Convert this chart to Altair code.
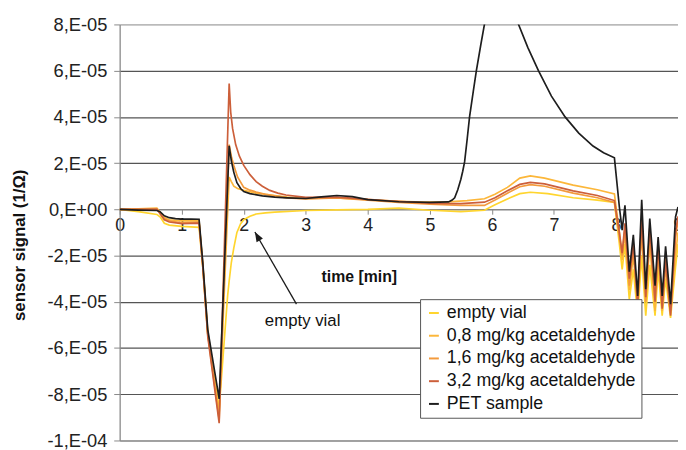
import json
import altair as alt
import pandas as pd

FONT = "Liberation Sans"

# ---- data: time in minutes, sensor signal in units of 1E-05 (1/Ohm) ----
osc_t = [8.055, 8.10, 8.145, 8.215, 8.28, 8.35, 8.415, 8.48, 8.545, 8.63, 8.68, 8.745, 8.80, 8.88, 8.96, 9.0]

empty_t = [0, 0.3, 0.6, 0.66, 0.72, 0.8, 1.0, 1.28, 1.34, 1.42, 1.604, 1.74, 1.765, 1.8, 1.84, 1.89,
           1.95, 2.0, 2.1, 2.2, 2.35, 2.5, 3.0, 3.5, 4.0, 4.5, 5.0, 5.5, 5.88, 6.05, 6.25, 6.45, 6.62,
           6.9, 7.31, 7.7, 7.975]
empty_v = [0, -0.1, -0.22, -0.35, -0.6, -0.68, -0.74, -0.78, -2.5, -5.4, -8.6, -3.75, -3.1, -2.3, -1.67,
           -1.0, -0.62, -0.45, -0.3, -0.2, -0.15, -0.12, -0.05, -0.02, 0.0, 0.05, -0.04, -0.1, -0.04,
           0.2, 0.45, 0.68, 0.74, 0.68, 0.5, 0.4, 0.3]
empty_osc = [-1.5, -2.6, -1.5, -3.9, -2.6, -4.6, -2.0, -4.6, -2.4, -4.6, -2.6, -4.6, -3.0, -4.7, -2.5, -1.5]

c08_t = [0, 0.3, 0.6, 0.66, 0.72, 0.8, 1.0, 1.28, 1.34, 1.42, 1.604, 1.765, 1.8, 1.84, 1.9, 2.0, 2.2, 2.5,
         2.7, 3.0, 3.5, 4.0, 4.5, 4.9, 5.3, 5.6, 5.88, 6.05, 6.25, 6.45, 6.62, 6.85, 7.31, 7.7, 7.975]
c08_v = [0, 0.02, 0.05, -0.15, -0.35, -0.45, -0.5, -0.5, -2.4, -5.3, -8.8, 1.4, 1.2, 1.0, 0.9, 0.82, 0.7, 0.6,
         0.53, 0.47, 0.5, 0.42, 0.35, 0.31, 0.32, 0.38, 0.46, 0.65, 0.95, 1.35, 1.45, 1.35, 1.05, 0.85, 0.67]
c08_osc = [-1.0, -2.2, -1.0, -3.5, -2.0, -4.2, -1.0, -4.0, -1.5, -4.4, -2.0, -4.4, -2.5, -4.5, -2.0, -1.0]

c16_t = [0, 0.3, 0.6, 0.66, 0.72, 0.8, 1.0, 1.28, 1.34, 1.42, 1.604, 1.765, 1.8, 1.84, 1.9, 2.0, 2.1, 2.2,
         2.35, 2.5, 2.7, 3.0, 3.5, 4.0, 4.5, 5.0, 5.5, 5.88, 6.05, 6.25, 6.45, 6.62, 6.85, 7.31, 7.7, 7.975]
c16_v = [0, 0.0, 0.02, -0.2, -0.4, -0.5, -0.58, -0.55, -2.4, -5.4, -9.1, 2.8, 2.3, 1.9, 1.4, 0.95, 0.83, 0.75,
         0.65, 0.58, 0.5, 0.45, 0.5, 0.4, 0.3, 0.22, 0.17, 0.17, 0.4, 0.7, 0.98, 1.07, 1.0, 0.7, 0.5, 0.3]
c16_osc = [-1.2, -2.0, -0.8, -3.3, -1.6, -4.0, -0.5, -4.0, -1.0, -3.9, -1.6, -4.2, -2.0, -4.4, -1.2, -0.5]

c32_t = [0, 0.3, 0.6, 0.66, 0.72, 0.8, 1.0, 1.28, 1.34, 1.42, 1.604, 1.765, 1.78, 1.79, 1.82, 1.87, 1.93,
         2.0, 2.1, 2.2, 2.3, 2.42, 2.55, 2.68, 3.0, 3.5, 4.27, 5.06, 5.5, 5.88, 6.05, 6.25, 6.45, 6.62,
         6.85, 7.31, 7.7, 7.975]
c32_v = [0, 0.0, 0.0, -0.22, -0.45, -0.55, -0.62, -0.6, -2.5, -5.5, -9.25, 5.44, 4.7, 4.2, 3.5, 2.8, 2.3,
         1.9, 1.5, 1.2, 1.0, 0.82, 0.7, 0.62, 0.52, 0.53, 0.38, 0.26, 0.25, 0.31, 0.5, 0.8, 1.08, 1.17,
         1.1, 0.8, 0.6, 0.38]
c32_osc = [-1.0, -1.9, -0.6, -3.0, -1.5, -4.2, -0.4, -3.8, -0.8, -4.0, -1.5, -4.3, -2.2, -4.6, -1.0, -0.3]

pet_t = [0, 0.3, 0.6, 0.65, 0.72, 0.8, 0.9, 1.0, 1.15, 1.28, 1.34, 1.42, 1.604, 1.765, 1.8, 1.84, 1.89,
         1.95, 2.0, 2.1, 2.3, 2.5, 2.7, 3.0, 3.25, 3.5, 3.75, 4.0, 4.5, 5.0, 5.3, 5.36, 5.4, 5.45, 5.5,
         5.53, 5.56, 5.6, 5.64, 5.7, 5.75, 5.82, 5.88, 5.97, 6.07, 6.17, 6.27, 6.36, 6.43, 6.58, 6.75,
         6.96, 7.18, 7.4, 7.63, 7.8, 7.975]
pet_v = [0, -0.03, -0.05, -0.1, -0.28, -0.36, -0.4, -0.42, -0.42, -0.43, -2.3, -5.2, -8.2, 2.75, 2.1, 1.6,
         1.15, 0.9, 0.77, 0.68, 0.58, 0.53, 0.5, 0.47, 0.54, 0.6, 0.55, 0.42, 0.33, 0.3, 0.32, 0.4, 0.5,
         0.85, 1.3, 1.65, 2.05, 3.0, 4.0, 5.1, 6.0, 7.1, 8.0, 9.2, 10.0, 10.2, 9.8, 8.8, 8.0, 7.0, 6.0,
         4.9, 4.0, 3.3, 2.74, 2.45, 2.23]
pet_osc = [0.1, -0.9, 0.17, -2.7, -1.1, -3.75, 0.41, -3.46, -0.4, -3.3, -1.2, -3.75, -1.6, -4.1, -0.33, 0.1]

series_names = ["empty vial", "0,8 mg/kg acetaldehyde", "1,6 mg/kg acetaldehyde",
                "3,2 mg/kg acetaldehyde", "PET sample"]
series_colors = ["#FFD52E", "#FCB73A", "#F39A3C", "#CC5F3A", "#1E1E1E"]

y_tick_values = [-10, -8, -6, -4, -2, 0, 2, 4, 6, 8]
y_tick_labels = ["-1,E-04", "-8,E-05", "-6,E-05", "-4,E-05", "-2,E-05",
                 "0,E+00", "2,E-05", "4,E-05", "6,E-05", "8,E-05"]
x_tick_values = [0, 1, 2, 3, 4, 5, 6, 7, 8, 9]

annotation_text = "empty vial"

# ---- build table ----
rows = []
for name, ts, vs, osc in [
    (series_names[0], empty_t, empty_v, empty_osc),
    (series_names[1], c08_t, c08_v, c08_osc),
    (series_names[2], c16_t, c16_v, c16_osc),
    (series_names[3], c32_t, c32_v, c32_osc),
    (series_names[4], pet_t, pet_v, pet_osc),
]:
    assert len(ts) == len(vs) and len(osc) == len(osc_t), name
    for t, v in zip(ts + osc_t, vs + osc):
        rows.append({"time": t, "signal": v, "series": name})
df = pd.DataFrame(rows)

x_scale = alt.Scale(domain=[0, 9], nice=False, zero=False)
y_scale = alt.Scale(domain=[-10, 8], nice=False, zero=False)

x_axis = alt.Axis(
    values=x_tick_values, format="d", title="time [min]", titleX=242, titleY=73,
    titleBaseline="alphabetic", titleAlign="center", titleFontSize=16, titleFontWeight="bold",
    titleFont=FONT, titleColor="#111", offset=-234, grid=False, tickSize=5, labelPadding=3,
    labelFontSize=18, labelFont=FONT, labelColor="#222", labelFlush=False,
    domainColor="#888", tickColor="#888", domainWidth=1.2,
)
y_axis = alt.Axis(
    values=y_tick_values,
    labelExpr=json.dumps(y_tick_labels) + "[round((datum.value + 10) / 2)]",
    title="sensor signal (1/Ω)", titleX=-101, titleY=223, titleAngle=270,
    titleBaseline="middle", titleAlign="center", titleFontSize=17, titleFontWeight="bold",
    titleFont=FONT, titleColor="#111", labelFontSize=18.5, labelFont=FONT, labelColor="#222",
    labelPadding=7, tickSize=6, tickColor="#888", domainColor="#888", domainWidth=1.2,
    grid=True,
    gridColor={"condition": {"test": "datum.value == 8", "value": "#aaaaaa"}, "value": "#555555"},
    gridWidth=1.2,
)

lines = alt.Chart(df).mark_line(strokeWidth=1.7, clip=True).encode(
    x=alt.X("time:Q", scale=x_scale, axis=x_axis),
    y=alt.Y("signal:Q", scale=y_scale, axis=y_axis),
    color=alt.Color(
        "series:N",
        scale=alt.Scale(domain=series_names, range=series_colors),
        legend=alt.Legend(
            title=None, orient="none", legendX=304, legendY=278, symbolType="stroke",
            symbolSize=100, symbolStrokeWidth=2, labelFontSize=18, labelFont=FONT,
            labelColor="#111", strokeColor="#555", fillColor="white", padding=5,
            rowPadding=5, labelOffset=4, labelLimit=400,
        ),
    ),
)

ann_df = pd.DataFrame({"time": [2.34], "signal": [-4.83], "label": [annotation_text]})
arrow_df = pd.DataFrame({"time": [2.85], "signal": [-4.1], "time_end": [2.18], "signal_end": [-0.98]})

ann_text = alt.Chart(ann_df).mark_text(
    align="left", baseline="middle", fontSize=17, font=FONT, color="#111"
).encode(
    x=alt.X("time:Q", scale=x_scale, axis=x_axis),
    y=alt.Y("signal:Q", scale=y_scale, axis=y_axis),
    text="label:N",
)
arrow_line = alt.Chart(arrow_df).mark_rule(color="#1a1a1a", strokeWidth=1.3).encode(
    x=alt.X("time:Q", scale=x_scale, axis=x_axis),
    y=alt.Y("signal:Q", scale=y_scale, axis=y_axis),
    x2="time_end:Q",
    y2="signal_end:Q",
)
arrow_head = alt.Chart(arrow_df).mark_point(
    shape="M0,0L-0.38,1L0.38,1Z", angle=330, size=380, filled=True, color="#1a1a1a", opacity=1
).encode(
    x=alt.X("time_end:Q", scale=x_scale, axis=x_axis),
    y=alt.Y("signal_end:Q", scale=y_scale, axis=y_axis),
)

chart = alt.layer(lines, arrow_line, arrow_head, ann_text).properties(
    width=565, height=421,
    autosize=alt.AutoSizeParams(type="none"),
    padding={"left": 113, "top": 14, "right": 0, "bottom": 7},
    background="white",
).configure_view(stroke=None).configure(font=FONT)

chart.save("out.html", embed_options={"renderer": "svg", "actions": False})
